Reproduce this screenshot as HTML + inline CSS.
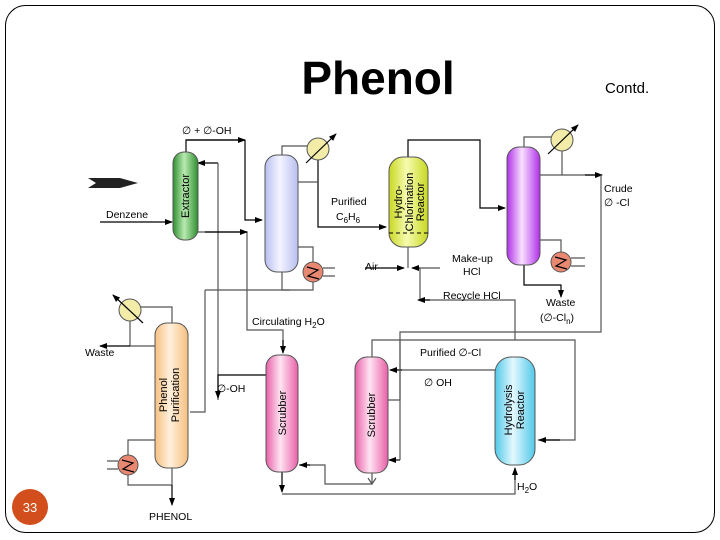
<!DOCTYPE html>
<html><head><meta charset="utf-8"><style>
html,body{margin:0;padding:0;background:#fff;}
svg{display:block;font-family:"Liberation Sans",sans-serif;}
</style></head><body>
<svg width="720" height="540" viewBox="0 0 720 540" xmlns="http://www.w3.org/2000/svg">
<defs>
<marker id="a" markerWidth="8" markerHeight="8" refX="7" refY="4" orient="auto" markerUnits="userSpaceOnUse"><path d="M0,1 L8,4 L0,7 Z" fill="#000"/></marker>
<linearGradient id="g" x1="0" x2="1"><stop offset="0" stop-color="#2f8f2f"/><stop offset=".45" stop-color="#b8eab0"/><stop offset="1" stop-color="#2f8f2f"/></linearGradient>
<linearGradient id="l" x1="0" x2="1"><stop offset="0" stop-color="#b8bff0"/><stop offset=".45" stop-color="#f4f4ff"/><stop offset="1" stop-color="#b8bff0"/></linearGradient>
<linearGradient id="y" x1="0" x2="1"><stop offset="0" stop-color="#c8d820"/><stop offset=".45" stop-color="#f6fbb0"/><stop offset="1" stop-color="#c8d820"/></linearGradient>
<linearGradient id="p" x1="0" x2="1"><stop offset="0" stop-color="#b030e8"/><stop offset=".45" stop-color="#f8e0ff"/><stop offset="1" stop-color="#b030e8"/></linearGradient>
<linearGradient id="o" x1="0" x2="1"><stop offset="0" stop-color="#f6c080"/><stop offset=".45" stop-color="#fff0dc"/><stop offset="1" stop-color="#f6c080"/></linearGradient>
<linearGradient id="k" x1="0" x2="1"><stop offset="0" stop-color="#e860a8"/><stop offset=".45" stop-color="#ffe4f2"/><stop offset="1" stop-color="#e860a8"/></linearGradient>
<linearGradient id="c" x1="0" x2="1"><stop offset="0" stop-color="#50c8e8"/><stop offset=".45" stop-color="#e4f8ff"/><stop offset="1" stop-color="#50c8e8"/></linearGradient>
</defs>
<rect x="5.5" y="5.5" width="709" height="527" rx="20" fill="none" stroke="#000" stroke-width="1"/>
<text x="378" y="94" font-size="46" font-weight="bold" text-anchor="middle">Phenol</text>
<text x="605" y="93" font-size="15">Contd.</text>
<circle cx="30" cy="507" r="18" fill="#d24e1c"/>
<text x="30" y="512" font-size="13" fill="#fff" text-anchor="middle">33</text>

<g fill="none" stroke="#555" stroke-width="1.2">
<path d="M186,152 V140 H245 M245,140 V220 H262" marker-end="url(#a)" stroke="#000"/>
<path d="M186,140 H245" marker-end="url(#a)" stroke="#000"/>
<path d="M218,163 H198" marker-end="url(#a)" stroke="#000"/>
<path d="M218,163 V400"/>
<path d="M198,232 H247 V330 H283 V352" />
<path d="M283,340 V353" marker-end="url(#a)" stroke="#000"/>
<path d="M205,232 H247" marker-end="url(#a)" stroke="#000"/>
<path d="M100,222 H172" marker-end="url(#a)" stroke="#000"/>
<path d="M282,155 V146 H307"/>
<path d="M318,160 V227 H386" marker-end="url(#a)" stroke="#000"/>
<path d="M298,182 H318"/>
<path d="M298,247 H313 V262"/>
<path d="M282,272 V290 H313 V282"/>
<path d="M323,268 H335 M323,276 H335"/>
<path d="M205,290 H290"/>
<path d="M205,290 V412 H190" />
<path d="M408,157 V140 H480 V208 H505" marker-end="url(#a)" stroke="#000"/>
<path d="M408,247 V268"/>
<path d="M365,268 H404" marker-end="url(#a)" stroke="#000"/>
<path d="M420,268 H440"/>
<path d="M420,268 H412" marker-end="url(#a)" stroke="#000"/>
<path d="M420,268 V300 H515 V340"/>
<path d="M430,300 H418" marker-end="url(#a)" stroke="#000"/>
<path d="M524,147 V137 H551"/>
<path d="M562,150 V175 M540,175 H601" />
<path d="M585,175 H602" marker-end="url(#a)" stroke="#000"/>
<path d="M601,175 V332 H400 V400 H388"/>
<path d="M540,240 H561 V252"/>
<path d="M524,265 V285 H561 V297" marker-end="url(#a)" stroke="#000"/>
<path d="M571,258 H585 M571,266 H585"/>
<path d="M372,357 V340 H575 V440 H538" />
<path d="M560,440 H539" marker-end="url(#a)" stroke="#000"/>
<path d="M495,370 H390"/>
<path d="M402,370 H390" marker-end="url(#a)" stroke="#000"/>
<path d="M400,460 H389" marker-end="url(#a)" stroke="#000"/>
<path d="M400,340 V460"/>
<path d="M372,473 V484 M368,478 L372,484 L376,478"/>
<path d="M372,484 H325 V465 H299"/>
<path d="M310,465 H300" marker-end="url(#a)" stroke="#000"/>
<path d="M282,472 V492" marker-end="url(#a)" stroke="#000"/>
<path d="M282,494 H515 V470"/>
<path d="M515,480 V468" marker-end="url(#a)" stroke="#000"/>
<path d="M266,375 H218 V398" marker-end="url(#a)" stroke="#000"/>
<path d="M172,323 V307 H141"/>
<path d="M130,320 V346 H155"/>
<path d="M130,346 H100" marker-end="url(#a)" stroke="#000"/>
<path d="M155,440 H128 V455"/>
<path d="M128,475 V485 H172 V468"/>
<path d="M172,485 V505" marker-end="url(#a)" stroke="#000"/>
<path d="M107,461 H118 M107,469 H118"/>
</g>

<path d="M88,178 H120 L138,183 L120,188 H88 L96,183 Z" fill="#222"/>

<rect x="173" y="152" width="25" height="88" rx="11" fill="url(#g)" stroke="#555"/>
<rect x="265" y="155" width="33" height="117" rx="12" fill="url(#l)" stroke="#555"/>
<rect x="389" y="157" width="39" height="90" rx="14" fill="url(#y)" stroke="#555"/>
<line x1="389" y1="233" x2="428" y2="233" stroke="#000" stroke-dasharray="4,3"/>
<rect x="507" y="147" width="33" height="118" rx="12" fill="url(#p)" stroke="#555"/>
<rect x="155" y="323" width="33" height="145" rx="12" fill="url(#o)" stroke="#555"/>
<rect x="266" y="355" width="32" height="117" rx="12" fill="url(#k)" stroke="#555"/>
<rect x="355" y="357" width="33" height="116" rx="12" fill="url(#k)" stroke="#555"/>
<rect x="495" y="357" width="40" height="108" rx="16" fill="url(#c)" stroke="#555"/>

<g stroke="#555">
<circle cx="318" cy="149" r="11" fill="#f2eca8"/>
<circle cx="562" cy="140" r="11" fill="#f2eca8"/>
<circle cx="130" cy="310" r="11" fill="#f2eca8"/>
<circle cx="313" cy="272" r="10" fill="#e88870"/>
<circle cx="561" cy="262" r="10" fill="#e88870"/>
<circle cx="128" cy="465" r="10" fill="#e88870"/>
</g>
<g stroke="#000" stroke-width="1.2" fill="none">
<path d="M306,163 L336,134" marker-end="url(#a)"/>
<path d="M548,154 L578,125" marker-end="url(#a)"/>
<path d="M143,323 L113,295" marker-end="url(#a)"/>
<path d="M307,267 L318,270 L308,276 L319,279"/>
<path d="M555,257 L566,260 L556,266 L567,269"/>
<path d="M122,460 L133,463 L123,469 L134,472"/>
</g>

<g font-size="11" text-anchor="middle">
<text transform="translate(189,196) rotate(-90)">Extractor</text>
<text transform="translate(402,202) rotate(-90)">Hydro-</text>
<text transform="translate(413,202) rotate(-90)">Chlorination</text>
<text transform="translate(424,202) rotate(-90)">Reactor</text>
<text transform="translate(167,395) rotate(-90)">Phenol</text>
<text transform="translate(179,395) rotate(-90)">Purification</text>
<text transform="translate(286,413) rotate(-90)">Scrubber</text>
<text transform="translate(375,415) rotate(-90)">Scrubber</text>
<text transform="translate(512,410) rotate(-90)">Hydrolysis</text>
<text transform="translate(524,410) rotate(-90)">Reactor</text>
</g>

<g font-size="10.5">
<text x="182" y="134">∅ + ∅-OH</text>
<text x="106" y="218">Denzene</text>
<text x="331" y="205">Purified</text>
<text x="336" y="220">C<tspan font-size="8" dy="3">6</tspan><tspan dy="-3">H</tspan><tspan font-size="8" dy="3">6</tspan></text>
<text x="365" y="270">Air</text>
<text x="452" y="262">Make-up</text>
<text x="463" y="275">HCl</text>
<text x="443" y="299">Recycle HCl</text>
<text x="604" y="192">Crude</text>
<text x="604" y="206">∅ -Cl</text>
<text x="546" y="306">Waste</text>
<text x="540" y="321">(∅-Cl<tspan font-size="8" dy="3">n</tspan><tspan dy="-3">)</tspan></text>
<text x="252" y="325">Circulating H<tspan font-size="8" dy="3">2</tspan><tspan dy="-3">O</tspan></text>
<text x="420" y="356">Purified ∅-Cl</text>
<text x="424" y="386">∅  OH</text>
<text x="217" y="392">∅-OH</text>
<text x="85" y="356">Waste</text>
<text x="517" y="490">H<tspan font-size="8" dy="3">2</tspan><tspan dy="-3">O</tspan></text>
<text x="149" y="520">PHENOL</text>
</g>
</svg>
</body></html>
